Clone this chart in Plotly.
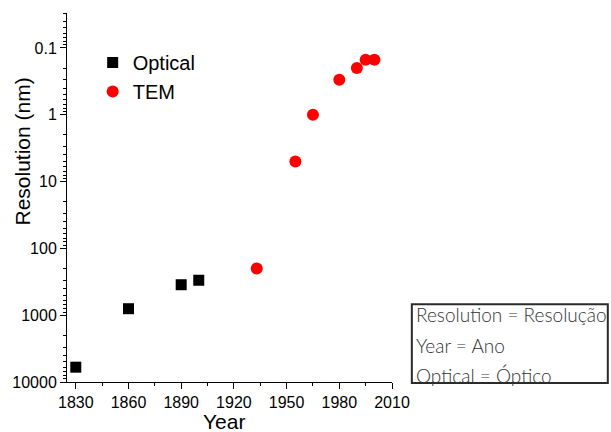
import plotly.graph_objects as go

optical_years = [1830, 1860, 1890, 1900]
optical_res = [6000, 800, 350, 300]
tem_years = [1933, 1955, 1965, 1980, 1990, 1995, 2000]
tem_res = [200, 5, 1, 0.3, 0.2, 0.15, 0.15]

x_ticks = [1830, 1860, 1890, 1920, 1950, 1980, 2010]
y_ticks = [0.1, 1, 10, 100, 1000, 10000]
y_tick_labels = ["0.1", "1", "10", "100", "1000", "10000"]
note_lines = ["Resolution = Resolução", "Year = Ano", "Optical = Óptico"]

minor_y = []
for e in range(-2, 4):
    for d in range(2, 10):
        minor_y.append(d * 10 ** e)

fig = go.Figure()
fig.add_trace(go.Scatter(x=optical_years, y=optical_res, mode="markers", name="Optical",
                         marker=dict(symbol="square", size=11, color="black")))
fig.add_trace(go.Scatter(x=tem_years, y=tem_res, mode="markers", name="TEM",
                         marker=dict(symbol="circle", size=12, color="#ff0000")))

axis_font = dict(family="Liberation Sans, Arial, sans-serif", size=16, color="black")

fig.update_layout(
    width=611, height=432,
    margin=dict(l=65, r=219, t=13, b=50),
    paper_bgcolor="white", plot_bgcolor="white",
    showlegend=True,
    legend=dict(x=0.079, y=0.919, xanchor="left", yanchor="top",
                font=dict(family="Liberation Sans, Arial, sans-serif", size=20, color="black"),
                bgcolor="rgba(0,0,0,0)", itemsizing="trace", tracegroupgap=0),
    xaxis=dict(range=[1825, 2010], tickvals=x_ticks, ticks="outside", ticklen=6, tickwidth=1,
               tickcolor="black", showline=True, linecolor="black", linewidth=1, showgrid=False,
               zeroline=False, tickfont=axis_font,
               minor=dict(dtick=15, tick0=1830, ticks="outside", ticklen=3, tickcolor="black", showgrid=False)),
    yaxis=dict(type="log", range=[4, -1.523], tickvals=y_ticks, ticktext=y_tick_labels,
               ticks="outside", ticklen=6, tickwidth=1, tickcolor="black", showline=True,
               linecolor="black", linewidth=1, showgrid=False, zeroline=False, tickfont=axis_font,
               minor=dict(tickvals=minor_y, ticks="outside", ticklen=3, tickcolor="black", showgrid=False)),
)

title_font = dict(family="Liberation Sans, Arial, sans-serif", size=21, color="black")
fig.add_annotation(text="Resolution (nm)", textangle=-90, xref="paper", yref="paper",
                   x=-0.138, y=0.625, xanchor="center", yanchor="middle", showarrow=False, font=title_font)
fig.add_annotation(text="Year", xref="paper", yref="paper", x=0.483, y=-0.106,
                   xanchor="center", yanchor="middle", showarrow=False, font=title_font)

fig.add_shape(type="rect", xref="paper", yref="paper", x0=1.061, x1=1.664, y0=-0.003, y1=0.2106,
              line=dict(color="#2b2b2b", width=2), fillcolor="rgba(0,0,0,0)")
note_y = [0.1835, 0.0993, 0.018]
for t, yy in zip(note_lines, note_y):
    fig.add_annotation(text=t, xref="paper", yref="paper", x=1.068, y=yy, xanchor="left",
                       yanchor="middle", showarrow=False,
                       font=dict(family="Lato, sans-serif", size=19, color="#333333", weight=300))

fig.write_html("out.html", config={"displayModeBar": False},
               post_script="document.body.style.margin='0';document.body.style.overflow='hidden';")
